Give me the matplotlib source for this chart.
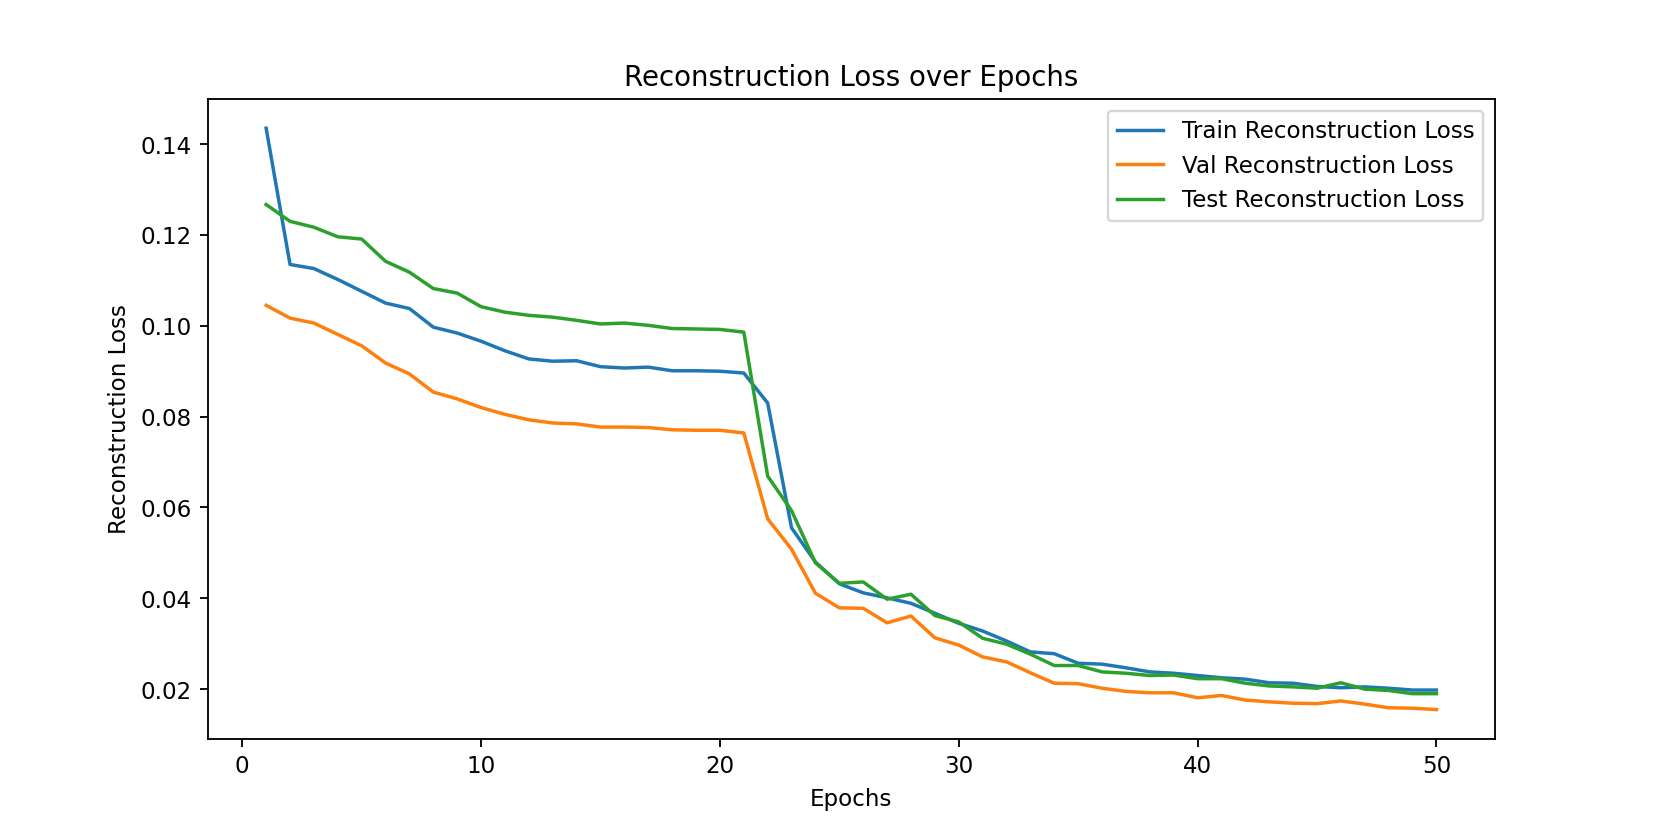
import numpy as np
import matplotlib
matplotlib.use("Agg")
from matplotlib import pyplot as plt

epochs = np.arange(1, 51)

train_loss = [
    0.1435, 0.1135, 0.1126, 0.1102, 0.1076, 0.1050, 0.1038, 0.0997, 0.0984, 0.0966,
    0.0945, 0.0927, 0.0922, 0.0923, 0.0910, 0.0907, 0.0909, 0.0901, 0.0901, 0.0900,
    0.0896, 0.0830, 0.0555, 0.0480, 0.0432, 0.0412, 0.0401, 0.0389, 0.0367, 0.0345,
    0.0328, 0.0306, 0.0282, 0.0278, 0.0257, 0.0255, 0.0247, 0.0238, 0.0235, 0.0230,
    0.0225, 0.0222, 0.0214, 0.0213, 0.0206, 0.0203, 0.0205, 0.0202, 0.0198, 0.0198,
]

val_loss = [
    0.1045, 0.1017, 0.1006, 0.0981, 0.0956, 0.0918, 0.0894, 0.0854, 0.0839, 0.0820,
    0.0805, 0.0793, 0.0786, 0.0784, 0.0777, 0.0777, 0.0776, 0.0771, 0.0770, 0.0770,
    0.0764, 0.0575, 0.0508, 0.0411, 0.0379, 0.0378, 0.0346, 0.0361, 0.0313, 0.0297,
    0.0271, 0.0260, 0.0236, 0.0213, 0.0212, 0.0202, 0.0195, 0.0192, 0.0192, 0.0181,
    0.0186, 0.0176, 0.0172, 0.0169, 0.0168, 0.0174, 0.0167, 0.0159, 0.0158, 0.0155,
]

test_loss = [
    0.1267, 0.1230, 0.1217, 0.1196, 0.1191, 0.1142, 0.1118, 0.1082, 0.1072, 0.1042,
    0.1030, 0.1023, 0.1019, 0.1012, 0.1004, 0.1006, 0.1001, 0.0994, 0.0993, 0.0992,
    0.0986, 0.0669, 0.0593, 0.0478, 0.0433, 0.0436, 0.0398, 0.0409, 0.0362, 0.0348,
    0.0312, 0.0299, 0.0277, 0.0252, 0.0252, 0.0238, 0.0235, 0.0230, 0.0231, 0.0223,
    0.0223, 0.0213, 0.0207, 0.0205, 0.0202, 0.0214, 0.0200, 0.0197, 0.0190, 0.0190,
]

fig, ax = plt.subplots(figsize=(10, 5), dpi=166.1)

plt.plot(epochs, train_loss, label="Train Reconstruction Loss")
plt.plot(epochs, val_loss, label="Val Reconstruction Loss")
plt.plot(epochs, test_loss, label="Test Reconstruction Loss")

plt.title("Reconstruction Loss over Epochs")
plt.xlabel("Epochs")
plt.ylabel("Reconstruction Loss")
plt.legend(loc="upper right")

plt.savefig("out.png", dpi=166.1)
